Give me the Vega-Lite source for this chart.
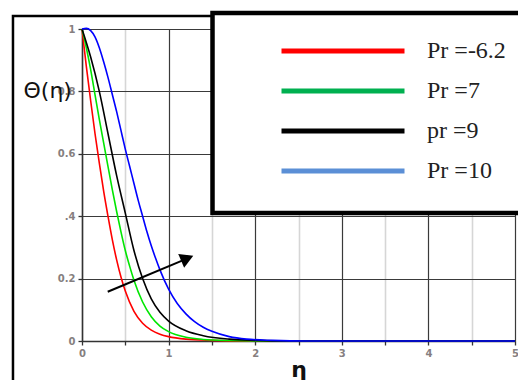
{
  "$schema": "https://vega.github.io/schema/vega-lite/v6.json",
  "width": 433,
  "height": 312,
  "autosize": {"type": "none"},
  "padding": {"left": 82, "top": 29, "right": 3, "bottom": 39},
  "background": "white",
  "config": {"view": {"stroke": null}},
  "datasets": {
    "curves": [
      {"series": "Pr =-6.2", "eta": 0, "theta": 1},
      {"series": "Pr =-6.2", "eta": 0.05, "theta": 0.88},
      {"series": "Pr =-6.2", "eta": 0.1, "theta": 0.77},
      {"series": "Pr =-6.2", "eta": 0.15, "theta": 0.665},
      {"series": "Pr =-6.2", "eta": 0.2, "theta": 0.57},
      {"series": "Pr =-6.2", "eta": 0.25, "theta": 0.48},
      {"series": "Pr =-6.2", "eta": 0.3, "theta": 0.40},
      {"series": "Pr =-6.2", "eta": 0.35, "theta": 0.325},
      {"series": "Pr =-6.2", "eta": 0.4, "theta": 0.26},
      {"series": "Pr =-6.2", "eta": 0.45, "theta": 0.205},
      {"series": "Pr =-6.2", "eta": 0.5, "theta": 0.16},
      {"series": "Pr =-6.2", "eta": 0.6, "theta": 0.095},
      {"series": "Pr =-6.2", "eta": 0.7, "theta": 0.057},
      {"series": "Pr =-6.2", "eta": 0.8, "theta": 0.035},
      {"series": "Pr =-6.2", "eta": 0.9, "theta": 0.022},
      {"series": "Pr =-6.2", "eta": 1.0, "theta": 0.014},
      {"series": "Pr =-6.2", "eta": 1.2, "theta": 0.006},
      {"series": "Pr =-6.2", "eta": 1.5, "theta": 0.002},
      {"series": "Pr =-6.2", "eta": 1.9, "theta": 0},
      {"series": "Pr =-6.2", "eta": 5.0, "theta": 0},
      {"series": "Pr =7", "eta": 0, "theta": 1},
      {"series": "Pr =7", "eta": 0.05, "theta": 0.94},
      {"series": "Pr =7", "eta": 0.1, "theta": 0.87},
      {"series": "Pr =7", "eta": 0.15, "theta": 0.79},
      {"series": "Pr =7", "eta": 0.2, "theta": 0.71},
      {"series": "Pr =7", "eta": 0.25, "theta": 0.635},
      {"series": "Pr =7", "eta": 0.3, "theta": 0.56},
      {"series": "Pr =7", "eta": 0.35, "theta": 0.485},
      {"series": "Pr =7", "eta": 0.4, "theta": 0.415},
      {"series": "Pr =7", "eta": 0.45, "theta": 0.35},
      {"series": "Pr =7", "eta": 0.5, "theta": 0.29},
      {"series": "Pr =7", "eta": 0.55, "theta": 0.24},
      {"series": "Pr =7", "eta": 0.6, "theta": 0.195},
      {"series": "Pr =7", "eta": 0.7, "theta": 0.125},
      {"series": "Pr =7", "eta": 0.8, "theta": 0.078},
      {"series": "Pr =7", "eta": 0.9, "theta": 0.048},
      {"series": "Pr =7", "eta": 1.0, "theta": 0.03},
      {"series": "Pr =7", "eta": 1.2, "theta": 0.012},
      {"series": "Pr =7", "eta": 1.4, "theta": 0.005},
      {"series": "Pr =7", "eta": 1.7, "theta": 0.0015},
      {"series": "Pr =7", "eta": 2.1, "theta": 0},
      {"series": "Pr =7", "eta": 5.0, "theta": 0},
      {"series": "pr =9", "eta": 0, "theta": 1},
      {"series": "pr =9", "eta": 0.1, "theta": 0.91},
      {"series": "pr =9", "eta": 0.2, "theta": 0.80},
      {"series": "pr =9", "eta": 0.3, "theta": 0.665},
      {"series": "pr =9", "eta": 0.4, "theta": 0.53},
      {"series": "pr =9", "eta": 0.5, "theta": 0.41},
      {"series": "pr =9", "eta": 0.6, "theta": 0.29},
      {"series": "pr =9", "eta": 0.7, "theta": 0.20},
      {"series": "pr =9", "eta": 0.8, "theta": 0.135},
      {"series": "pr =9", "eta": 0.9, "theta": 0.092},
      {"series": "pr =9", "eta": 1.0, "theta": 0.064},
      {"series": "pr =9", "eta": 1.2, "theta": 0.033},
      {"series": "pr =9", "eta": 1.4, "theta": 0.017},
      {"series": "pr =9", "eta": 1.7, "theta": 0.006},
      {"series": "pr =9", "eta": 2.0, "theta": 0.002},
      {"series": "pr =9", "eta": 2.4, "theta": 0},
      {"series": "pr =9", "eta": 5.0, "theta": 0},
      {"series": "Pr =10", "eta": 0, "theta": 1},
      {"series": "Pr =10", "eta": 0.05, "theta": 1.002},
      {"series": "Pr =10", "eta": 0.1, "theta": 0.995},
      {"series": "Pr =10", "eta": 0.15, "theta": 0.975},
      {"series": "Pr =10", "eta": 0.2, "theta": 0.94},
      {"series": "Pr =10", "eta": 0.25, "theta": 0.895},
      {"series": "Pr =10", "eta": 0.3, "theta": 0.845},
      {"series": "Pr =10", "eta": 0.35, "theta": 0.79},
      {"series": "Pr =10", "eta": 0.4, "theta": 0.735},
      {"series": "Pr =10", "eta": 0.45, "theta": 0.675},
      {"series": "Pr =10", "eta": 0.5, "theta": 0.615},
      {"series": "Pr =10", "eta": 0.55, "theta": 0.56},
      {"series": "Pr =10", "eta": 0.6, "theta": 0.505},
      {"series": "Pr =10", "eta": 0.65, "theta": 0.45},
      {"series": "Pr =10", "eta": 0.7, "theta": 0.40},
      {"series": "Pr =10", "eta": 0.75, "theta": 0.35},
      {"series": "Pr =10", "eta": 0.8, "theta": 0.305},
      {"series": "Pr =10", "eta": 0.85, "theta": 0.265},
      {"series": "Pr =10", "eta": 0.9, "theta": 0.228},
      {"series": "Pr =10", "eta": 1.0, "theta": 0.166},
      {"series": "Pr =10", "eta": 1.1, "theta": 0.12},
      {"series": "Pr =10", "eta": 1.2, "theta": 0.087},
      {"series": "Pr =10", "eta": 1.3, "theta": 0.062},
      {"series": "Pr =10", "eta": 1.4, "theta": 0.044},
      {"series": "Pr =10", "eta": 1.5, "theta": 0.031},
      {"series": "Pr =10", "eta": 1.7, "theta": 0.014},
      {"series": "Pr =10", "eta": 1.9, "theta": 0.006},
      {"series": "Pr =10", "eta": 2.2, "theta": 0.002},
      {"series": "Pr =10", "eta": 2.6, "theta": 0},
      {"series": "Pr =10", "eta": 5.0, "theta": 0}
    ],
    "legendEntries": [
      {"label": "Pr =-6.2"},
      {"label": "Pr =7"},
      {"label": "pr =9"},
      {"label": "Pr =10"}
    ]
  },
  "layer": [
    {
      "data": {"name": "curves"},
      "mark": {"type": "line", "strokeWidth": 1.6, "interpolate": "monotone"},
      "encoding": {
        "x": {
          "field": "eta", "type": "quantitative",
          "scale": {"domain": [0, 5], "nice": false, "zero": false},
          "axis": {
            "values": [0, 0.5, 1, 1.5, 2, 2.5, 3, 3.5, 4, 4.5, 5],
            "labelExpr": "datum.value % 1 == 0 ? format(datum.value, 'd') : ''",
            "title": "η",
            "titleFont": "DejaVu Sans", "titleFontSize": 22, "titleFontWeight": "bold", "titleColor": "#111",
            "titleY": 35, "titleBaseline": "alphabetic",
            "grid": true,
            "gridColor": {"condition": {"test": "datum.value % 1 == 0", "value": "#3a3a3a"}, "value": "#d6d6d6"},
            "gridWidth": {"condition": {"test": "datum.value % 1 == 0", "value": 1.2}, "value": 1.6},
            "tickColor": "#333", "tickSize": 4, "tickWidth": 1.3,
            "domainColor": "#333", "domainWidth": 1.5,
            "labelFont": "DejaVu Sans", "labelFontSize": 10, "labelFontWeight": "bold",
            "labelColor": "#867f80", "labelPadding": 3, "labelFlush": false
          }
        },
        "y": {
          "field": "theta", "type": "quantitative",
          "scale": {"domain": [0, 1], "nice": false, "zero": false},
          "axis": {
            "values": [0, 0.1, 0.2, 0.3, 0.4, 0.5, 0.6, 0.7, 0.8, 0.9, 1],
            "labelExpr": "abs(datum.value*5 - round(datum.value*5)) > 0.001 ? '' : datum.value == 0.4 ? '.4' : datum.value == 0 ? '0' : datum.value == 1 ? '1' : format(datum.value, '.1f')",
            "title": "Θ(η)",
            "titleFont": "DejaVu Sans", "titleFontSize": 22, "titleFontWeight": "normal", "titleColor": "#111",
            "titleAngle": 0, "titleAlign": "left", "titleBaseline": "middle",
            "titleX": -59, "titleY": 61,
            "grid": true,
            "gridColor": {"condition": {"test": "abs(datum.value*5 - round(datum.value*5)) < 0.001", "value": "#3a3a3a"}, "value": "#d6d6d6"},
            "gridWidth": {"condition": {"test": "abs(datum.value*5 - round(datum.value*5)) < 0.001", "value": 1.2}, "value": 1.6},
            "tickColor": "#333", "tickSize": 4, "tickWidth": 1.3,
            "domainColor": "#333", "domainWidth": 1.5,
            "labelFont": "DejaVu Sans", "labelFontSize": 10, "labelFontWeight": "bold",
            "labelColor": "#867f80", "labelPadding": 3, "labelFlush": false
          }
        },
        "color": {
          "field": "series", "type": "nominal",
          "sort": ["Pr =-6.2", "Pr =7", "pr =9", "Pr =10"],
          "scale": {"range": ["#ff0000", "#00e600", "#000000", "#0000ff"]},
          "legend": null
        }
      }
    },
    {
      "data": {"values": [{}]},
      "mark": {"type": "rect", "fillOpacity": 0, "stroke": "black", "strokeWidth": 2.5},
      "encoding": {
        "x": {"datum": -0.797, "type": "quantitative"},
        "x2": {"datum": 5.3},
        "y": {"datum": 1.042, "type": "quantitative"},
        "y2": {"datum": -0.3}
      }
    },
    {
      "data": {"values": [{}]},
      "mark": {"type": "rule", "strokeWidth": 2, "color": "black"},
      "encoding": {
        "x": {"datum": 0.297, "type": "quantitative"},
        "y": {"datum": 0.158, "type": "quantitative"},
        "x2": {"datum": 1.17},
        "y2": {"datum": 0.259}
      }
    },
    {
      "data": {"values": [{}]},
      "mark": {"type": "point", "shape": "triangle-right", "filled": true, "color": "black", "opacity": 1, "size": 230, "angle": 337},
      "encoding": {
        "x": {"datum": 1.215, "type": "quantitative"},
        "y": {"datum": 0.265, "type": "quantitative"}
      }
    },
    {
      "data": {"values": [{}]},
      "mark": {"type": "rect", "fill": "white", "stroke": "black", "strokeWidth": 4.5},
      "encoding": {
        "x": {"datum": 1.507, "type": "quantitative"},
        "x2": {"datum": 5.3},
        "y": {"datum": 1.051, "type": "quantitative"},
        "y2": {"datum": 0.41}
      }
    },
    {
      "data": {"name": "legendEntries"},
      "mark": {"type": "point", "filled": false, "size": 0, "shape": "stroke", "opacity": 1},
      "encoding": {
        "x": {"datum": 0, "type": "quantitative"},
        "y": {"datum": 0, "type": "quantitative"},
        "stroke": {
          "field": "label", "type": "nominal",
          "scale": {"domain": ["Pr =-6.2", "Pr =7", "pr =9", "Pr =10"], "range": ["#ff0000", "#00b050", "#000000", "#5b8fd6"]},
          "legend": {
            "orient": "none", "legendX": 197, "legendY": 2,
            "title": null,
            "symbolType": "stroke", "symbolSize": 15129, "symbolStrokeWidth": 5, "symbolOpacity": 1,
            "clipHeight": 40, "rowPadding": 0, "padding": 0, "symbolOffset": 0,
            "labelFont": "Liberation Serif", "labelFontSize": 24, "labelColor": "#222",
            "labelOffset": 20, "labelLimit": 300
          }
        }
      }
    }
  ]
}
